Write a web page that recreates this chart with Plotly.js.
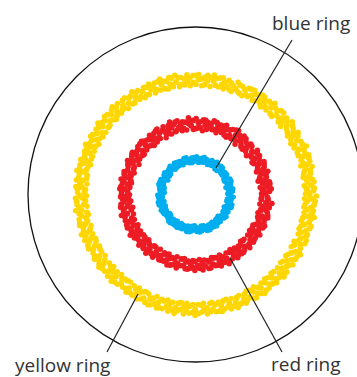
<!DOCTYPE html>
<html>
<head>
<meta charset="utf-8">
<script src="https://cdn.plot.ly/plotly-3.0.1.min.js"></script>
<style>
html,body{margin:0;padding:0;overflow:hidden;background:#fff;}
#chart{width:372px;height:377px;}
</style>
</head>
<body>
<div id="chart"></div>
<script>
// ---- data (polar: radius in px-like units, angle in degrees) ----
const yellowTheta = [
0.4,1.9,3.1,4.6,6.2,7.4,9.0,10.3,11.8,13.5,
15.1,16.2,18.0,19.4,20.7,22.3,23.6,25.2,26.8,28.1,
29.9,31.2,32.5,34.1,35.6,36.9,38.6,40.0,41.3,42.8,
44.5,45.7,47.2,48.9,50.1,51.6,53.3,54.5,56.0,57.7,
59.0,60.4,62.1,63.3,64.8,66.5,67.7,69.2,70.9,72.2,
73.6,75.3,76.5,78.0,79.7,81.0,82.4,84.1,85.3,86.8,
88.4,89.7,91.2,92.8,94.1,95.5,97.2,98.4,99.9,101.6,
102.9,104.3,105.9,107.2,108.6,110.3,111.5,113.0,114.7,115.9,
117.4,119.1,120.4,121.8,123.5,124.7,126.2,127.9,129.1,130.6,
132.3,133.5,135.0,136.6,137.9,139.4,141.0,142.3,143.8,145.4,
146.7,148.1,149.8,151.0,152.5,154.2,155.4,156.9,158.6,159.8,
161.3,163.0,164.2,165.7,167.4,168.6,170.1,171.8,173.0,174.5,
176.2,177.4,178.9,180.6,181.8,183.3,185.0,186.2,187.7,189.4,
190.6,192.1,193.8,195.0,196.5,198.2,199.4,200.9,202.6,203.8,
205.3,207.0,208.2,209.7,211.4,212.6,214.1,215.8,217.0,218.5,
220.2,221.4,222.9,224.6,225.8,227.3,229.0,230.2,231.7,233.4,
234.6,236.1,237.8,239.0,240.5,242.2,243.4,244.9,246.6,247.8,
249.3,251.0,252.2,253.7,255.4,256.6,258.1,259.8,261.0,262.5,
264.2,265.4,266.9,268.6,269.8,271.3,273.0,274.2,275.7,277.4,
278.6,280.1,281.8,283.0,284.5,286.2,287.4,288.9,290.6,291.8,
293.3,295.0,296.2,297.7,299.4,300.6,302.1,303.8,305.0,306.5,
308.2,309.4,310.9,312.6,313.8,315.3,317.0,318.2,319.7,321.4,
322.6,324.1,325.8,327.0,328.5,330.2,331.4,332.9,334.6,335.8,
337.3,339.0,340.2,341.7,343.4,344.6,346.1,347.8,349.0,350.5,
352.2,353.4,354.9,356.6,357.8,359.3];
const yellowR = [
114,118,111,116,119,112,115,110,117,113,
116,112,119,114,110,117,113,118,111,115,
118,113,116,111,119,114,117,112,115,120,
113,117,110,115,118,112,116,119,114,111,
117,114,119,112,116,110,118,113,115,117,
112,116,113,119,111,115,118,114,110,116,
115,119,112,117,113,116,111,118,114,119,
113,117,110,115,119,112,116,114,118,111,
116,112,118,114,110,117,113,119,115,112,
118,114,111,116,119,113,117,110,115,118,
112,116,119,113,117,111,115,118,114,110,
117,113,116,119,112,115,110,118,114,116,
114,118,111,116,113,119,112,117,115,110,
116,112,119,114,117,111,115,118,113,116,
119,113,116,110,118,114,117,112,115,119,
111,116,113,118,114,119,112,116,110,117,
115,118,112,117,113,110,116,119,114,112,
117,114,119,111,116,113,118,115,110,116,
113,117,112,118,115,119,111,116,114,118,
116,112,119,114,110,117,113,118,115,111,
118,115,111,116,119,113,117,112,114,119,
112,116,118,113,117,110,115,119,114,116,
117,113,116,119,112,115,118,111,116,113,
114,118,112,116,119,113,117,110,115,118,
113,116,119,112,117,114];
const yellowR2 = [
110,112,119,109,113,118,109,117,111,120,
109,119,111,120,117,110,121,109,118,108,
110,120,109,118,112,121,109,119,110,113,
120,109,118,121,110,119,109,111,120,118,
110,120,111,119,109,118,111,120,109,110,
119,109,120,110,118,121,109,120,118,109,
120,110,119,109,120,110,118,109,121,110,
120,109,118,121,110,119,109,120,110,119,
109,119,110,121,118,110,120,109,111,120,
110,121,119,109,111,120,110,118,121,109,
119,109,111,120,109,118,121,110,119,118,
110,120,109,111,119,121,118,110,120,109,
120,110,118,109,120,110,119,109,121,118,
109,119,111,120,109,118,121,110,120,109,
110,120,109,118,110,120,109,119,121,110,
119,109,120,110,121,109,119,110,118,109,
120,110,119,109,120,118,109,110,120,119,
109,120,110,119,109,120,110,121,118,109,
120,109,119,110,121,110,118,109,120,110,
109,119,110,120,118,109,120,110,121,119,
110,120,118,109,110,120,109,119,121,110,
119,109,110,120,109,118,121,110,120,109,
110,120,109,110,119,121,109,118,109,120,
120,110,119,109,110,120,109,118,121,110,
119,109,110,120,109,121];

const redTheta = [
0.7,2.5,4.3,6.1,8.2,9.8,11.9,13.7,15.6,17.9,
20.3,21.8,24.1,25.7,27.9,29.6,31.4,33.8,35.5,37.2,
40.6,42.4,44.0,46.3,47.9,50.2,51.8,53.5,55.9,57.6,
60.1,61.9,64.2,65.8,67.5,69.9,71.6,73.3,75.7,77.4,
80.4,82.0,83.8,86.1,87.7,89.5,91.9,93.6,95.3,97.8,
100.2,101.7,104.0,105.8,107.4,109.7,111.5,113.2,115.6,117.3,
120.5,122.1,124.3,126.0,127.8,130.1,131.6,133.9,135.4,137.7,
140.3,142.0,143.9,146.2,147.8,149.6,152.0,153.5,155.8,157.4,
160.6,162.2,164.1,165.9,168.3,169.8,171.5,174.0,175.6,177.9,
180.2,181.9,184.1,185.7,187.6,189.9,191.5,193.3,195.8,197.4,
200.5,202.3,203.9,206.2,207.8,209.6,212.0,213.7,215.4,217.8,
220.1,221.8,224.0,225.9,227.5,229.8,231.4,233.2,235.7,237.3,
240.6,242.1,244.3,246.0,247.9,250.1,251.7,253.6,255.3,257.8,
260.2,262.0,263.8,266.1,267.7,269.5,271.9,273.4,275.7,277.6,
280.4,281.9,284.2,285.8,287.6,289.9,291.6,293.4,295.9,297.5,
300.3,302.1,303.8,306.0,307.9,309.7,311.5,313.9,315.6,317.4,
320.5,322.2,324.0,326.3,327.8,329.6,332.0,333.7,335.5,337.9,
340.1,342.0,343.7,346.0,347.6,349.8,351.5,353.3,355.8,357.6];
const redR = [
70,74,67,72,75,68,71,66,73,69,
72,67,75,70,66,73,69,74,68,71,
74,69,72,66,75,70,73,67,71,76,
68,73,66,71,74,69,72,75,67,70,
73,70,75,67,72,66,74,69,71,73,
67,72,69,75,66,71,74,70,68,72,
71,75,68,73,69,72,66,74,70,75,
69,73,66,71,75,68,72,70,74,67,
72,68,74,70,66,73,69,75,71,68,
74,70,67,72,75,69,73,66,71,74,
68,72,75,69,73,67,71,74,70,66,
73,69,72,75,68,71,66,74,70,72,
70,74,67,72,69,75,68,73,71,66,
72,68,75,70,73,67,71,74,69,72,
75,69,72,66,74,70,73,68,71,75,
67,72,69,74,70,75,68,72,66,73,
71,74,68,73,69,66,72,75,70,68,
73,70,75,67,72,69,74,71,66,72];
const redR2 = [
66,69,76,65,70,75,64,73,67,76,
65,74,68,76,72,65,75,67,76,64,
66,75,65,73,68,76,64,74,77,66,
75,65,72,76,67,74,65,68,76,73,
66,75,64,73,67,76,65,74,77,65,
74,65,76,67,73,77,65,66,75,64,
76,66,74,65,75,64,73,67,76,66,
75,65,73,76,66,74,64,76,67,73,
65,75,67,73,76,65,74,66,76,74,
66,75,73,65,67,76,64,74,77,65,
75,66,69,76,65,74,77,66,75,73,
66,76,65,67,74,77,73,66,76,65,
75,66,74,65,76,67,74,65,76,73,
65,75,67,74,66,76,73,65,76,66,
67,75,65,74,66,76,65,74,77,66,
74,65,76,66,75,67,74,65,76,66,
75,66,74,65,76,73,65,67,76,74,
66,76,65,74,67,75,65,77,73,66];

const blueTheta = [
1.2,5.0,8.7,13.1,16.8,20.9,24.6,28.3,32.7,36.4,
40.8,44.5,48.2,52.6,56.3,60.7,64.1,68.5,72.2,76.6,
80.3,84.7,88.1,92.5,96.2,100.6,104.3,108.0,112.4,116.1,
120.5,124.2,128.6,132.0,136.4,140.1,144.5,148.2,152.6,156.3,
160.7,164.4,168.1,172.5,176.2,180.6,184.0,188.4,192.1,196.5,
200.2,204.6,208.3,212.0,216.4,220.1,224.5,228.2,232.6,236.0,
240.4,244.1,248.5,252.2,256.6,260.3,264.0,268.4,272.1,276.5,
280.2,284.6,288.0,292.4,296.1,300.5,304.2,308.6,312.3,316.0,
320.4,324.1,328.5,332.2,336.6,340.0,344.4,348.1,352.5,356.2];
const blueR = [
35,37,33,36,34,38,32,35,37,33,
36,34,38,32,35,37,33,36,34,38,
33,36,34,37,32,35,38,34,36,33,
37,33,35,38,34,36,32,37,35,34,
34,38,32,36,35,33,37,34,38,35,
36,33,37,34,32,36,35,38,33,37,
35,37,33,36,38,34,32,35,37,34,
32,36,35,38,33,37,34,36,32,35,
37,34,36,33,35,38,34,32,36,35];
const blueR2 = [
32,34,38,31,37,33,38,32,34,37,
33,38,32,37,39,33,38,32,37,33,
37,32,38,33,37,32,33,38,32,37,
33,38,32,34,37,32,38,33,31,38,
38,33,37,32,31,38,33,37,32,38,
32,38,33,37,36,32,38,33,37,32,
38,32,37,33,32,38,37,31,33,38,
37,32,38,33,37,32,38,32,37,31,
33,38,32,37,31,33,38,36,32,38];

const labels = ["blue ring", "red ring", "yellow ring"];

// ---- layout helpers (pixel -> paper) ----
const W = 372, H = 377;
const px = x => x / W;
const py = y => 1 - y / H;

function ring(theta, r, color, size) {
  return {type:'scatterpolar', mode:'markers', theta:theta, r:r,
    marker:{color:color, size:size, line:{width:0}}, hoverinfo:'skip', showlegend:false};
}

const YEL = '#FFD700', RED = '#ED1C24', BLU = '#00AEEF';
const data = [
  ring(yellowTheta, yellowR, YEL, 6),
  ring(yellowTheta, yellowR2, YEL, 5.5),
  ring(redTheta, redR, RED, 6),
  ring(redTheta, redR2, RED, 5.5),
  ring(blueTheta, blueR, BLU, 5.5),
  ring(blueTheta, blueR2, BLU, 5)
];

const lineStyle = {color:'#222', width:1.2};
const shapes = [
  {type:'line', xref:'paper', yref:'paper', x0:px(292), y0:py(40), x1:px(216), y1:py(168), line:lineStyle},
  {type:'line', xref:'paper', yref:'paper', x0:px(230), y0:py(258), x1:px(282), y1:py(352), line:lineStyle},
  {type:'line', xref:'paper', yref:'paper', x0:px(138), y0:py(294), x1:px(107), y1:py(352), line:lineStyle}
];

const font = {family:'"Open Sans", sans-serif', size:19, color:'#333'};
const annotations = [
  {text:labels[0], xref:'paper', yref:'paper', x:px(352), y:py(23), xanchor:'right', yanchor:'middle', showarrow:false, font:font},
  {text:labels[1], xref:'paper', yref:'paper', x:px(343), y:py(364), xanchor:'right', yanchor:'middle', showarrow:false, font:font},
  {text:labels[2], xref:'paper', yref:'paper', x:px(13), y:py(365), xanchor:'left', yanchor:'middle', showarrow:false, font:font}
];

const layout = {
  width:W, height:H,
  margin:{l:0, r:0, t:0, b:0},
  paper_bgcolor:'#fff',
  showlegend:false,
  polar:{
    domain:{x:[28/W, 363/W], y:[15/H, 350/H]},
    bgcolor:'rgba(0,0,0,0)',
    radialaxis:{range:[0,167.5], visible:false, showgrid:false},
    angularaxis:{showgrid:false, showticklabels:false, ticks:'', showline:true, linecolor:'#111', linewidth:1.3}
  },
  shapes:shapes,
  annotations:annotations
};

Plotly.newPlot('chart', data, layout, {staticPlot:true, displayModeBar:false});
</script>
</body>
</html>
